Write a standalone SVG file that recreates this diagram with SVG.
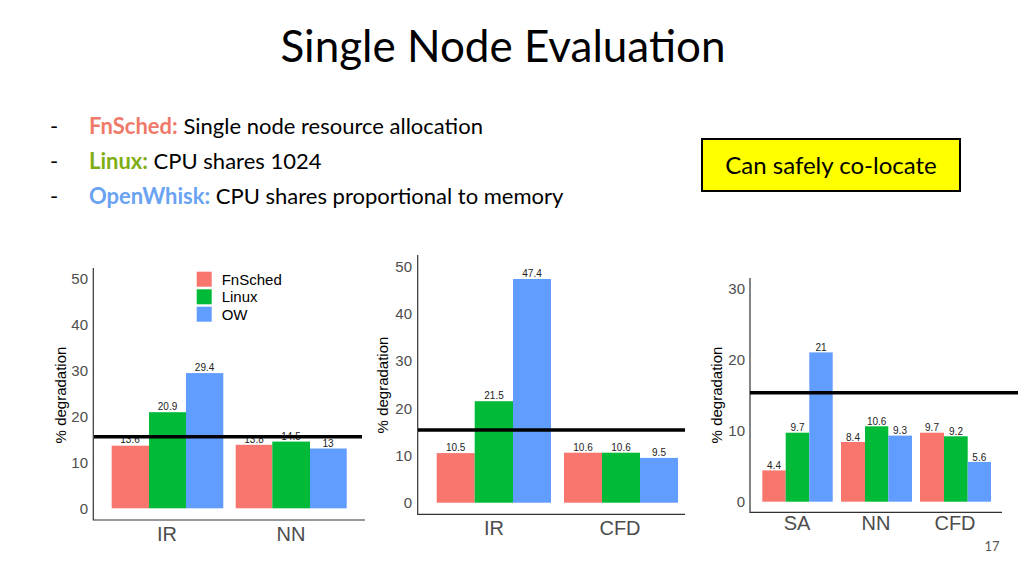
<svg xmlns="http://www.w3.org/2000/svg" width="1024" height="576" viewBox="0 0 1024 576">
<style>
.t{font-family:Lato,"Open Sans",sans-serif}
.a{font-family:"Liberation Sans",Arial,sans-serif}
.tick{font-size:15px;fill:#4d4d4d;text-anchor:end}
.cat{font-size:20px;fill:#4d4d4d;text-anchor:middle}
.yl{font-size:15px;fill:#000;text-anchor:middle}
.v{font-size:10px;fill:#222;text-anchor:middle}
.ax{stroke:#333;stroke-width:1.2;fill:none}
.r{fill:#F8766D}.g{fill:#00BA38}.b{fill:#619CFF}
.th{stroke:#000;stroke-width:3.5}
</style>
<rect width="1024" height="576" fill="#fff"/>
<g id="title"><text class="t" x="503" y="62" font-size="44" text-anchor="middle" fill="#000">Single Node Evaluation</text></g>
<g id="bullets" class="t" font-size="22">
<text x="50" y="134">-</text><text x="89" y="134"><tspan fill="#F07A6A" font-weight="bold">FnSched:</tspan> Single node resource allocation</text>
<text x="50" y="169">-</text><text x="89" y="169"><tspan fill="#7FAE14" font-weight="bold">Linux:</tspan> CPU shares 1024</text>
<text x="50" y="204">-</text><text x="89" y="204"><tspan fill="#6AA3F2" font-weight="bold">OpenWhisk:</tspan> CPU shares proportional to memory</text>
</g>
<g id="callout"><rect x="702" y="139" width="258" height="52" fill="#FFFF00" stroke="#000" stroke-width="2"/><text class="t" x="831" y="174" font-size="24" text-anchor="middle">Can safely co-locate</text></g>

<g id="chart1" class="a">
<path class="ax" d="M93.3,268V520H365"/>
<g class="tick"><text x="88" y="513.5">0</text><text x="88" y="467.5">10</text><text x="88" y="421.5">20</text><text x="88" y="375.5">30</text><text x="88" y="329.5">40</text><text x="88" y="283.5">50</text></g>
<text class="yl" transform="translate(66,395) rotate(-90)">% degradation</text>
<rect class="r" x="111.7" y="445.7" width="37.3" height="62.6"/><rect class="g" x="149" y="412.2" width="37" height="96.1"/><rect class="b" x="186" y="373.1" width="37.3" height="135.2"/>
<rect class="r" x="235.7" y="444.8" width="36.6" height="63.5"/><rect class="g" x="272.3" y="441.6" width="37.7" height="66.7"/><rect class="b" x="310" y="448.5" width="36.7" height="59.8"/>
<g class="v"><text x="130" y="443">13.6</text><text x="167.5" y="410">20.9</text><text x="204.6" y="371">29.4</text><text x="254" y="443">13.8</text><text x="291" y="440">14.5</text><text x="328" y="447">13</text></g>
<text class="cat" x="167" y="541">IR</text><text class="cat" x="291" y="541">NN</text>
<g font-size="15" fill="#000"><rect class="r" x="196.7" y="271.7" width="15" height="15"/><rect class="g" x="196.7" y="289.3" width="15" height="15"/><rect class="b" x="196.7" y="306.7" width="15" height="15"/>
<text x="221.7" y="284.5">FnSched</text><text x="221.7" y="302">Linux</text><text x="221.7" y="319.5">OW</text></g>
<line class="th" x1="94" y1="436.7" x2="362" y2="436.7"/>
</g>

<g id="chart2" class="a">
<path class="ax" d="M417.7,255V514.3H685"/>
<g class="tick"><text x="412" y="508">0</text><text x="412" y="460.7">10</text><text x="412" y="413.5">20</text><text x="412" y="366.3">30</text><text x="412" y="319.1">40</text><text x="412" y="271.9">50</text></g>
<text class="yl" transform="translate(388,385) rotate(-90)">% degradation</text>
<rect class="r" x="436.7" y="453.1" width="38" height="49.6"/><rect class="g" x="474.7" y="401.2" width="38.3" height="101.5"/><rect class="b" x="513" y="279" width="38" height="223.7"/>
<rect class="r" x="564" y="452.7" width="38" height="50"/><rect class="g" x="602" y="452.7" width="38" height="50"/><rect class="b" x="640" y="457.9" width="38" height="44.8"/>
<g class="v"><text x="455.7" y="451">10.5</text><text x="494" y="399">21.5</text><text x="532" y="277">47.4</text><text x="583" y="451">10.6</text><text x="621" y="451">10.6</text><text x="659" y="456">9.5</text></g>
<text class="cat" x="494" y="535">IR</text><text class="cat" x="620" y="535">CFD</text>
<line class="th" x1="418" y1="430" x2="685" y2="430"/>
</g>

<g id="chart3" class="a">
<path class="ax" d="M750,278V512.3H1002"/>
<g class="tick"><text x="745" y="507">0</text><text x="745" y="435.9">10</text><text x="745" y="364.8">20</text><text x="745" y="293.7">30</text></g>
<text class="yl" transform="translate(722,395) rotate(-90)">% degradation</text>
<rect class="r" x="762.3" y="470.4" width="23.4" height="31.3"/><rect class="g" x="785.7" y="432.7" width="23.6" height="69"/><rect class="b" x="809.3" y="352.4" width="23.4" height="149.3"/>
<rect class="r" x="841" y="442" width="24" height="59.7"/><rect class="g" x="865" y="426.3" width="23.3" height="75.4"/><rect class="b" x="888.3" y="435.6" width="23.7" height="66.1"/>
<rect class="r" x="920" y="432.7" width="24" height="69"/><rect class="g" x="944" y="436.3" width="23.7" height="65.4"/><rect class="b" x="967.7" y="461.9" width="23.3" height="39.8"/>
<g class="v" font-size="9"><text x="774" y="469">4.4</text><text x="797.5" y="431">9.7</text><text x="821" y="351">21</text><text x="853" y="440.5">8.4</text><text x="876.7" y="425">10.6</text><text x="900" y="434">9.3</text><text x="932" y="431">9.7</text><text x="956" y="435">9.2</text><text x="979.3" y="460.5">5.6</text></g>
<text class="cat" x="797" y="530">SA</text><text class="cat" x="876" y="530">NN</text><text class="cat" x="955" y="530">CFD</text>
<line class="th" x1="750" y1="392.7" x2="1018" y2="392.7"/>
</g>
<text class="t" x="992" y="551" font-size="13" fill="#595959" text-anchor="middle">17</text>
</svg>
